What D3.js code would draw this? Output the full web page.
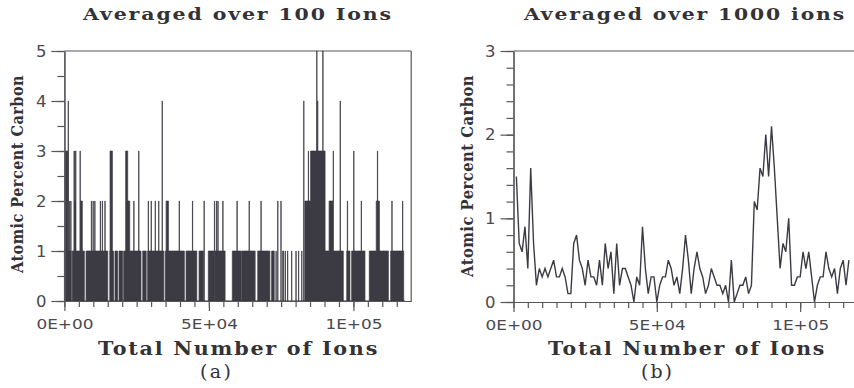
<!DOCTYPE html>
<html><head><meta charset="utf-8">
<script src="https://cdn.jsdelivr.net/npm/d3@7"></script>
<style>body{margin:0;background:#fff}svg{display:block}</style>
</head><body><svg id="c" width="854" height="388"></svg>
<script>
// ---------------- data ----------------
const titles = ["Averaged over 100 Ions", "Averaged over 1000 ions"];
const xTitle = "Total Number of Ions";
const yTitle = "Atomic Percent Carbon";
const panelTags = ["(a)", "(b)"];
const xTickValues = [0, 50000, 100000];
const xTickLabels = ["0E+00", "5E+04", "1E+05"];
const yTicksA = [0, 1, 2, 3, 4, 5];
const yTicksB = [0, 1, 2, 3];

// (a) 100-ion bins, run-length: [start (thousand ions), end (thousand ions), atomic % carbon]
const levelOneRunsA = [
  [0.0, 2.4, 1], [2.7, 6.9, 1], [7.5, 15.0, 1], [15.7, 17.0, 1], [17.5, 18.4, 1],
  [18.9, 20.1, 1], [20.5, 26.5, 1], [27.1, 28.3, 1], [28.8, 34.4, 1], [34.9, 41.5, 1],
  [42.1, 45.8, 1], [46.6, 48.1, 1], [49.8, 51.8, 1], [52.0, 55.6, 1], [58.1, 61.2, 1],
  [61.4, 66.0, 1], [66.9, 71.1, 1], [71.7, 72.6, 1], [75.5, 75.9, 1], [83.2, 96.5, 1],
  [97.7, 98.8, 1], [99.4, 104.0, 1], [105.5, 112.1, 1], [112.9, 117.4, 1]
];
const thinBarsA = [
  [73.2, 1], [76.4, 1], [77.2, 1], [78.6, 1], [80.1, 1], [81.0, 1], [82.1, 1],
  [1.3, 4], [1.7, 2], [2.2, 2], [5.4, 3], [9.3, 2], [9.9, 2], [10.5, 2], [12.4, 2],
  [13.1, 2], [14.0, 2], [24.0, 2], [25.7, 3], [29.0, 2], [30.0, 2], [31.4, 2],
  [32.6, 2], [33.8, 4], [39.7, 2], [44.3, 2], [48.3, 2], [51.9, 2], [52.6, 2],
  [53.1, 2], [54.8, 2], [59.7, 2], [63.9, 2], [68.0, 2], [73.8, 2], [74.9, 2],
  [82.8, 4], [84.4, 3], [87.3, 5], [89.4, 5], [93.0, 3], [95.4, 4], [97.9, 2],
  [100.1, 3], [102.7, 2], [108.3, 3], [113.3, 2], [117.0, 2]
];
const wideBarsA = [
  [0.2, 1.2, 3], [3.3, 3.5, 3], [3.5, 3.8, 2], [3.8, 4.0, 3], [5.6, 6.2, 2],
  [15.8, 16.6, 3], [21.2, 21.9, 3], [21.9, 22.6, 2], [35.2, 36.0, 2],
  [83.2, 85.2, 2], [85.2, 90.2, 3], [87.5, 87.7, 4], [91.6, 93.0, 2], [107.9, 109.0, 2]
];

// (b) averages over consecutive 1000-ion blocks (atomic % carbon), block 1 .. 117
const avgB = [
  1.5, 0.7, 0.6, 0.9, 0.4, 1.6, 0.7, 0.2, 0.4, 0.3,
  0.4, 0.3, 0.4, 0.5, 0.3, 0.3, 0.4, 0.3, 0.1, 0.1,
  0.7, 0.8, 0.5, 0.4, 0.2, 0.5, 0.3, 0.3, 0.2, 0.5,
  0.2, 0.7, 0.4, 0.6, 0.1, 0.7, 0.2, 0.4, 0.4, 0.3,
  0.2, 0.0, 0.3, 0.2, 0.9, 0.4, 0.1, 0.3, 0.3, 0.0,
  0.2, 0.3, 0.3, 0.5, 0.4, 0.2, 0.3, 0.1, 0.4, 0.8,
  0.5, 0.1, 0.4, 0.6, 0.4, 0.3, 0.1, 0.2, 0.4, 0.3,
  0.2, 0.2, 0.1, 0.2, 0.0, 0.5, 0.0, 0.1, 0.2, 0.2,
  0.3, 0.1, 0.2, 1.2, 1.1, 1.6, 1.5, 2.0, 1.5, 2.1,
  1.6, 1.0, 0.4, 0.7, 0.6, 1.0, 0.2, 0.2, 0.3, 0.3,
  0.6, 0.4, 0.6, 0.3, 0.0, 0.2, 0.3, 0.3, 0.6, 0.4,
  0.3, 0.4, 0.1, 0.4, 0.5, 0.2, 0.5
];

// ---------------- build ----------------
const svg = d3.select("#c");
const ink = "#3c3b44", axisInk = "#57565c", textInk = "#333237";
const serif = "'DejaVu Serif', serif", sans = "'DejaVu Sans', sans-serif";

// decode run-length data of (a) into 100-ion bins
const nBinsA = 1178;
const binsA = new Array(nBinsA).fill(0);
function put(s, e, v) {
  const i0 = Math.round(s * 10), i1 = Math.max(i0 + 1, Math.round(e * 10));
  for (let i = i0; i < i1 && i < nBinsA; i++) binsA[i] = Math.max(binsA[i], v);
}
levelOneRunsA.forEach(r => put(r[0], r[1], r[2]));
wideBarsA.forEach(r => put(r[0], r[1], r[2]));
thinBarsA.forEach(r => put(r[0], r[0] + 0.1, r[1]));
const seriesA = binsA.map((v, i) => ({ ion: i * 100, v }));
seriesA.push({ ion: nBinsA * 100, v: 0 });

const seriesB = avgB.map((v, i) => ({ ion: (i + 1) * 1000, v }));

function panel(cfg) {
  const x = d3.scaleLinear().domain([0, 120000]).range([cfg.x0, cfg.x1]);
  const y = d3.scaleLinear().domain([0, cfg.yMax]).range([cfg.yb, cfg.yt]);
  const g = svg.append("g");

  // frame (top and right)
  g.append("line").attr("x1", x(0)).attr("x2", Math.min(854, x(120000)))
    .attr("y1", y(cfg.yMax)).attr("y2", y(cfg.yMax))
    .attr("stroke", axisInk).attr("stroke-width", 1.2);
  if (x(120000) < 854)
    g.append("line").attr("x1", x(120000)).attr("x2", x(120000))
      .attr("y1", y(cfg.yMax)).attr("y2", y(0))
      .attr("stroke", axisInk).attr("stroke-width", 1.2);

  // data
  cfg.draw(g, x, y);

  // y axis minor
  g.append("g").attr("transform", `translate(${x(0)},0)`)
    .call(d3.axisLeft(y).tickValues(d3.range(0, cfg.yMax + 1e-9, cfg.yMinorStep)).tickSize(7).tickSizeOuter(0).tickFormat(""));
  // y axis major
  const yMajor = g.append("g").attr("transform", `translate(${x(0)},0)`)
    .call(d3.axisLeft(y).tickValues(cfg.yTicks).tickSize(13).tickSizeOuter(0).tickPadding(5).tickFormat(d3.format("d")));
  yMajor.selectAll("text").attr("font-family", sans).attr("font-size", 16.5).attr("fill", "#4a494f");

  // x axis minor
  g.append("g").attr("transform", `translate(0,${y(0)})`)
    .call(d3.axisBottom(x).tickValues(d3.range(0, 115001, 5000)).tickSize(6).tickSizeOuter(0).tickFormat(""));
  const xMajor = g.append("g").attr("transform", `translate(0,${y(0)})`)
    .call(d3.axisBottom(x).tickValues(xTickValues).tickSize(10).tickSizeOuter(0).tickPadding(8)
      .tickFormat((d, i) => xTickLabels[i]));
  xMajor.selectAll("text").attr("font-family", sans).attr("font-size", 14).attr("fill", "#4a494f")
    .attr("textLength", 57).attr("lengthAdjust", "spacingAndGlyphs");

  g.selectAll(".domain, .tick line").attr("stroke", axisInk).attr("stroke-width", 1.2);

  // titles
  g.append("text").attr("x", cfg.titleX).attr("y", 20).text(cfg.title)
    .attr("font-family", serif).attr("font-weight", "bold").attr("font-size", 16.5)
    .attr("letter-spacing", 1.5)
    .attr("fill", textInk).attr("textLength", cfg.titleLen).attr("lengthAdjust", "spacingAndGlyphs");
  g.append("text").attr("x", cfg.xtX).attr("y", 355).text(xTitle)
    .attr("font-family", serif).attr("font-weight", "bold").attr("font-size", 18)
    .attr("letter-spacing", 1.5)
    .attr("fill", textInk).attr("textLength", cfg.xtLen).attr("lengthAdjust", "spacingAndGlyphs");
  g.append("text").attr("transform", `translate(${cfg.ytX},${cfg.ytY}) rotate(-90)`)
    .attr("text-anchor", "middle").text(yTitle)
    .attr("font-family", serif).attr("font-weight", "bold").attr("font-size", 16)
    .attr("letter-spacing", 0.5)
    .attr("fill", textInk).attr("textLength", cfg.ytLen).attr("lengthAdjust", "spacingAndGlyphs");
  g.append("text").attr("x", cfg.tagX).attr("y", 378).text(cfg.tag)
    .attr("font-family", serif).attr("font-size", 19).attr("fill", textInk)
    .attr("textLength", 31).attr("lengthAdjust", "spacing");
}

panel({
  x0: 64.4, x1: 411.2, yb: 301, yt: 51, yMax: 5, yTicks: yTicksA, yMinorStep: 0.5,
  title: titles[0], titleX: 83, titleLen: 310, xtX: 98, xtLen: 281,
  ytX: 22.5, ytY: 174, ytLen: 198, tag: panelTags[0], tagX: 200,
  draw: (g, x, y) => {
    const area = d3.area().curve(d3.curveStepAfter)
      .x(d => x(d.ion)).y0(y(0)).y1(d => y(d.v));
    g.append("path").datum(seriesA).attr("d", area)
      .attr("fill", ink).attr("stroke", ink).attr("stroke-width", 0.8).attr("stroke-opacity", 0.9);
  }
});

panel({
  x0: 513.5, x1: 857.5, yb: 302, yt: 51, yMax: 3, yTicks: yTicksB, yMinorStep: 0.2,
  title: titles[1], titleX: 524, titleLen: 322, xtX: 548, xtLen: 278,
  ytX: 473, ytY: 176, ytLen: 202, tag: panelTags[1], tagX: 641,
  draw: (g, x, y) => {
    const line = d3.line().x(d => x(d.ion)).y(d => y(d.v));
    g.append("path").datum(seriesB).attr("d", line)
      .attr("fill", "none").attr("stroke", ink).attr("stroke-width", 1.4).attr("stroke-linejoin", "miter");
  }
});
</script></body></html>
